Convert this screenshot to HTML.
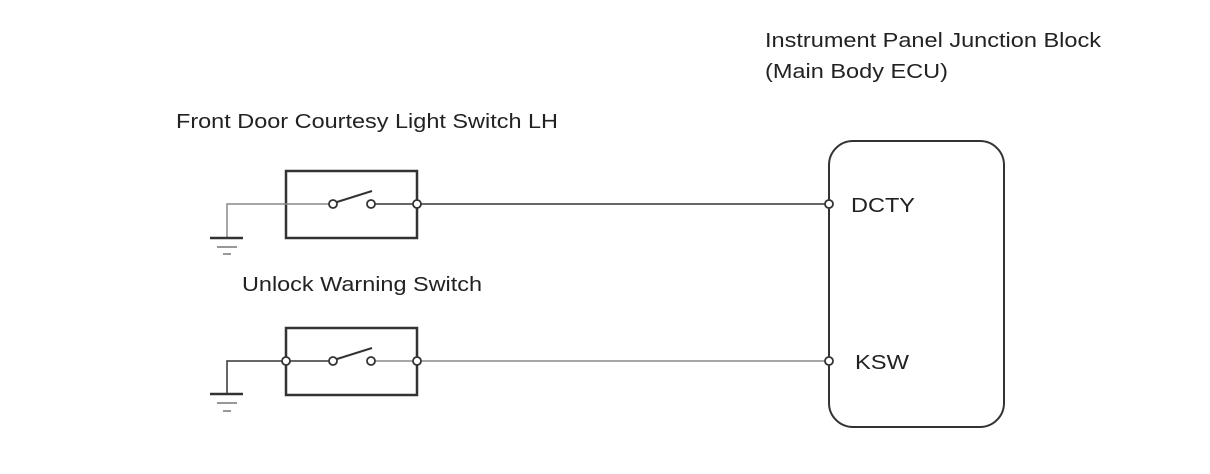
<!DOCTYPE html>
<html><head><meta charset="utf-8"><style>html,body{margin:0;padding:0;background:#fff}svg{display:block}</style></head>
<body>
<svg width="1210" height="474" viewBox="0 0 1210 474" xmlns="http://www.w3.org/2000/svg" font-family="Liberation Sans, sans-serif" fill="#222">
<g font-size="20">
<text x="765" y="47" textLength="336" lengthAdjust="spacingAndGlyphs">Instrument Panel Junction Block</text>
<text x="765" y="78" textLength="183" lengthAdjust="spacingAndGlyphs">(Main Body ECU)</text>
<text x="176" y="128" textLength="382" lengthAdjust="spacingAndGlyphs">Front Door Courtesy Light Switch LH</text>
<text x="242" y="291" textLength="240" lengthAdjust="spacingAndGlyphs">Unlock Warning Switch</text>
<text x="851" y="212" textLength="64" lengthAdjust="spacingAndGlyphs">DCTY</text>
<text x="855" y="369" textLength="54" lengthAdjust="spacingAndGlyphs">KSW</text>
</g>
<g fill="none" stroke="#333" stroke-width="1.5">
<!-- ECU -->
<rect x="829" y="141" width="175" height="286" rx="24" stroke-width="2"/>
<!-- switch 1 -->
<rect x="286" y="171" width="131" height="67" stroke-width="2.5"/>
<polyline points="227,237 227,204 329,204" stroke="#888"/>
<line x1="375" y1="204" x2="413" y2="204"/>
<line x1="421" y1="204" x2="825" y2="204"/>
<line x1="337" y1="202" x2="372" y2="191" stroke-width="2"/>
<!-- switch 2 -->
<rect x="286" y="328" width="131" height="67" stroke-width="2.5"/>
<polyline points="227,394 227,361 282,361"/>
<line x1="290" y1="361" x2="329" y2="361"/>
<line x1="375" y1="361" x2="413" y2="361" stroke="#888"/>
<line x1="421" y1="361" x2="825" y2="361" stroke="#888"/>
<line x1="337" y1="359" x2="372" y2="348" stroke-width="2"/>
<!-- grounds -->
<line x1="210" y1="238" x2="243" y2="238" stroke-width="2.5"/>
<line x1="217" y1="247" x2="237" y2="247" stroke="#777"/>
<line x1="223" y1="254" x2="231" y2="254" stroke="#777"/>
<line x1="210" y1="394" x2="243" y2="394" stroke-width="2.5"/>
<line x1="217" y1="403" x2="237" y2="403" stroke="#777"/>
<line x1="223" y1="411" x2="231" y2="411" stroke="#777"/>
</g>
<g fill="#fff" stroke="#333" stroke-width="1.8">
<circle cx="333" cy="204" r="4"/><circle cx="371" cy="204" r="4"/><circle cx="417" cy="204" r="4"/>
<circle cx="333" cy="361" r="4"/><circle cx="371" cy="361" r="4"/><circle cx="417" cy="361" r="4"/><circle cx="286" cy="361" r="4"/>
<circle cx="829" cy="204" r="4"/><circle cx="829" cy="361" r="4"/>
</g>
</svg>
</body></html>
